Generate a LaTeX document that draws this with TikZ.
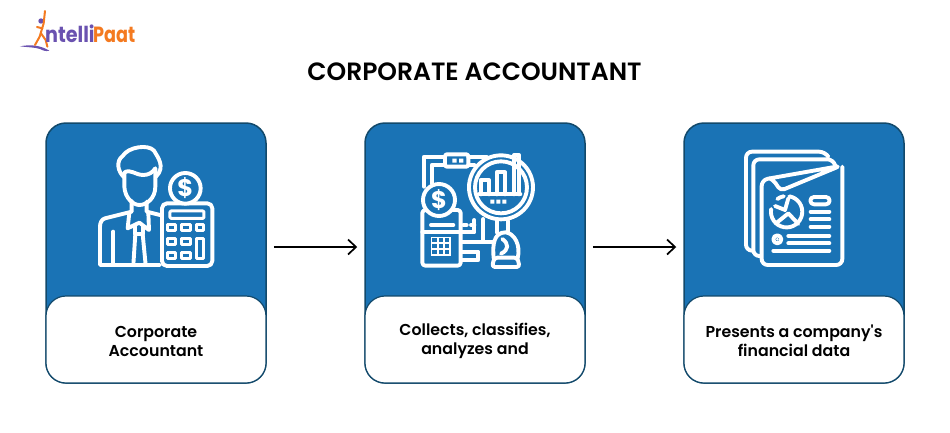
\documentclass[tikz,border=0pt]{standalone}
\usepackage{fontspec}
\setmainfont{Poppins}
\newfontfamily\medfont{Poppins Medium}
\newfontfamily\semifont{Poppins SemiBold}
\usetikzlibrary{arrows.meta}
\definecolor{cardblue}{HTML}{1A73B5}
\definecolor{carddark}{HTML}{12496B}
\definecolor{logopurple}{HTML}{6A52B0}
\definecolor{logoorange}{HTML}{F47A20}
\newcommand{\firstline}{\rule{0pt}{15pt}}
\tikzset{
  cardbox/.style={draw=carddark,line width=1.5pt,fill=cardblue,rounded corners=20pt,minimum width=220pt,minimum height=260pt,inner sep=0pt},
  cardlabel/.style={draw=carddark,line width=1.2pt,fill=white,rounded corners=20pt,minimum width=220pt,minimum height=87pt,inner sep=0pt,align=center,font=\fontsize{15.8}{19}\selectfont\semifont,text=black},
  flowarrow/.style={line width=1.7pt,black,-{Straight Barb[length=8pt,width=15pt,line width=1.7pt]},shorten <=7pt,shorten >=7pt},
  ic/.style={draw=white,line width=3.9pt,line cap=round,line join=round},
  icthin/.style={draw=white,line width=3pt,line cap=round,line join=round},
  coinmark/.style={text=white,font=\fontsize{24}{25}\selectfont\bfseries,inner sep=0pt},
  logotext/.style={anchor=base west,inner sep=0pt,font=\fontsize{22}{24}\selectfont\bfseries},
  logostroke/.style={logoorange,line width=2pt,line cap=round,line join=round},
  zoomed/.style={x=0.3333pt,y=-0.3333pt}
}
\begin{document}
\begin{tikzpicture}[x=1pt,y=-1pt]
\useasboundingbox (0,0) rectangle (950,432);
\fill[white] (0,0) rectangle (950,432);
% title
\node[font=\fontsize{25}{28}\selectfont\semifont,text=black,inner sep=0pt] (title) at (474.5,72) {CORPORATE ACCOUNTANT};
% logo
\begin{scope}[xshift=15pt,yshift=-5pt,zoomed]
\fill[logopurple] (15,124) .. controls (45,118) and (75,120) .. (103,137) .. controls (92,140) and (85,137) .. (75,132) .. controls (60,127) and (40,127) .. (15,124) -- cycle;
\fill[logopurple] (78,48) circle[radius=8];
\draw[logostroke] (90,18) -- (86,55) -- (74,95) -- (60,120);
\draw[logostroke] (66,66) -- (82,70);
\draw[logostroke] (78,85) -- (92,105) -- (97,125);
\end{scope}
\node[logotext,text=logopurple,xscale=.87] (logoa) at (45,42.7) {ntelli};
\node[logotext,text=logoorange,xscale=.8] (logob) at (93,42.7) {Paat};
% cards
\node[cardbox] (b1) at (156,253) {};
\node[cardbox] (b2) at (475,253) {};
\node[cardbox] (b3) at (794,253) {};
\node[cardlabel] (l1) at (156,339.5) {\firstline Corporate\\Accountant};
\node[cardlabel] (l2) at (475,339.5) {\firstline Collects, classifies,\\analyzes and};
\node[cardlabel] (l3) at (794,339.5) {\firstline Presents a company's\\financial data};
\draw[flowarrow] ([yshift=6pt]b1.east) -- ([yshift=6pt]b2.west);
\draw[flowarrow] ([yshift=6pt]b2.east) -- ([yshift=6pt]b3.west);
% icon 1
\begin{scope}[xshift=80pt,yshift=-130pt,zoomed]
\draw[ic] (133,142) .. controls (112,125) and (108,92) .. (128,78) .. controls (145,50) and (205,42) .. (222,62) .. controls (232,80) and (258,110) .. (228,140);
\draw[ic] (133,128) .. controls (150,115) and (165,135) .. (190,135) .. controls (205,135) and (218,128) .. (226,115);
\draw[ic] (133,128) -- (133,170) .. controls (135,205) and (160,225) .. (178,225) .. controls (200,225) and (226,205) .. (226,170) -- (226,115);
\draw[ic] (155,212) -- (155,245) -- (75,265) .. controls (65,268) and (60,278) .. (60,290) -- (60,405) -- (240,405);
\draw[ic] (200,215) -- (200,245) -- (240,255);
\draw[ic] (100,305) -- (100,405);
\draw[ic] (148,248) -- (143,295) -- (178,278) -- (207,300) -- (205,248);
\draw[ic] (166,290) -- (166,312) -- (188,312) -- (188,290);
\draw[ic] (166,312) -- (160,405);
\draw[ic] (188,312) -- (197,405);
\draw[ic,fill=cardblue,rounded corners=5pt] (246,220) rectangle (397,408);
\draw[icthin,rounded corners=1pt] (270,243) rectangle (372,265);
\foreach \xa/\xb in {262/288,305/332,350/372}{
  \draw[icthin] (\xa,285) rectangle (\xb,303);
}
\foreach \xa/\xb in {262/288,305/332}{
  \draw[icthin] (\xa,327) rectangle (\xb,345);
  \draw[icthin] (\xa,367) rectangle (\xb,385);
}
\draw[icthin] (350,327) rectangle (372,385);
\draw[ic,fill=cardblue] (316,175) circle[radius=46];
\node[coinmark] (c1) at (316,175) {\$};
\end{scope}
% icon 2
\begin{scope}[xshift=415pt,yshift=-145pt,zoomed]
\draw[ic] (27,125) -- (27,35) -- (90,35);
\draw[ic] (160,35) -- (215,35);
\draw[ic] (50,115) -- (50,60) -- (90,60);
\draw[ic] (160,60) -- (178,60);
\draw[ic,rounded corners=2pt] (90,28) rectangle (160,65);
\fill[white] (112,41) rectangle (125,53) (132,41) rectangle (145,53);
\draw[ic] (145,240) -- (155,240) (168,240) -- (178,240);
\draw[ic] (178,225) -- (178,262) -- (140,262);
\draw[ic] (140,290) -- (205,290) -- (205,222);
\draw[ic] (140,320) -- (190,320) -- (190,345) -- (140,345);
\draw[ic] (205,290) -- (232,290);
\draw[ic] (245,228) -- (245,262);
\draw[ic] (280,228) -- (280,262);
\draw[ic,fill=cardblue] (258,127) circle[radius=96];
\draw[ic] (258,127) circle[radius=78];
\draw[ic] (197,148) -- (197,105) -- (222,105) -- (222,148);
\draw[ic] (245,148) -- (245,82) -- (270,82) -- (270,148);
\draw[ic] (297,148) -- (297,30) -- (312,30) -- (312,148);
\draw[ic] (192,148) -- (316,148);
\fill[white] (226,164) rectangle (238,176) (244,164) rectangle (256,176) (262,164) rectangle (274,176);
\draw[ic,fill=cardblue] (236,340) .. controls (232,300) and (236,262) .. (272,262) .. controls (298,265) and (318,300) .. (308,340);
\draw[ic] (262,282) .. controls (282,296) and (282,315) .. (258,326);
\draw[ic,rounded corners=3pt] (238,338) -- (307,338) -- (314,366) -- (231,366) -- cycle;
\draw[ic,fill=cardblue,rounded corners=3pt] (22,195) rectangle (137,362);
\draw[ic] (48,240) -- (115,240);
\draw[ic] (22,262) -- (137,262);
\fill[white] (48,275) rectangle (108,334);
\foreach \i in {0,1,2}{\foreach \j in {0,1,2}{
  \fill[cardblue] (52+18.5*\i,279+18*\j) rectangle (66+18.5*\i,291+18*\j);
}}
\draw[ic,fill=cardblue] (72,165) circle[radius=48];
\node[coinmark] (c2) at (72,165) {\$};
\end{scope}
% icon 3
\begin{scope}[xshift=720pt,yshift=-130pt,zoomed]
\draw[ic,rounded corners=6pt] (325,80) -- (315,65) -- (78,65) -- (78,362) -- (98,362);
\draw[ic,rounded corners=6pt] (345,105) -- (340,88) -- (100,88) -- (100,378) -- (122,378);
\draw[ic,rounded corners=6pt] (150,145) -- (125,150) -- (125,405) -- (367,405) -- (367,110);
\draw[ic,rounded corners=4pt] (150,145) -- (360,108) -- (182,182) -- (160,150) -- (150,145);
\draw[ic] (208,199) arc[start angle=-80,end angle=190,radius=47];
\draw[ic] (172,207) arc[start angle=-126,end angle=-100,radius=47];
\draw[ic] (165,228) -- (195,240) -- (205,205);
\draw[ic] (168,280) -- (205,250) -- (235,282);
\draw[ic] (282,201) -- (318,201) arc[start angle=-90,end angle=90,radius=11] -- (282,223) arc[start angle=90,end angle=270,radius=11] -- cycle;
\foreach \y in {245,268,290}{\draw[ic] (272,\y) -- (328,\y);}
\draw[ic] (172,328) circle[radius=12];
\fill[white] (172,328) circle[radius=1.5pt];
\draw[ic] (205,318) -- (328,318);
\draw[ic] (205,340) -- (328,340);
\draw[ic] (160,362) -- (328,362);
\end{scope}
\end{tikzpicture}
\end{document}
